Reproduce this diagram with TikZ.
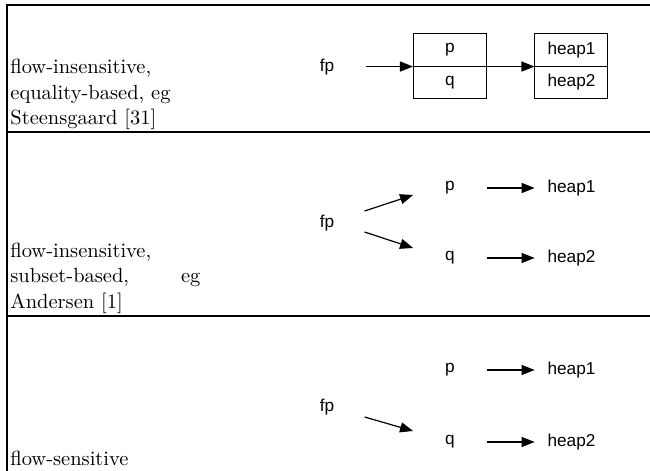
\documentclass[tikz,border=0pt]{standalone}
\usepackage{fontspec}
\newfontfamily\diagfont{Liberation Sans}
\usetikzlibrary{arrows.meta}

\tikzset{
  lbl/.style={font=\diagfont\fontsize{8.6}{10}\selectfont, inner sep=0pt},
  cell/.style={lbl, minimum width=36.5pt, minimum height=16.35pt},
  box/.style={cell, draw, line width=0.5pt},
  arr/.style={-{Triangle[length=6.5pt,width=5pt]}, line width=0.6pt},
  rowtext/.style={font=\fontsize{10.25}{12.75}\selectfont, inner sep=0pt, align=left, anchor=base west}
}

\begin{document}
\begin{tikzpicture}[x=0.5pt,y=-0.5pt]
\useasboundingbox (0,0) rectangle (650,471);

% table rules
\draw[line width=0.6pt] (7,471) -- (7,5) -- (650,5);
\draw[line width=0.6pt] (7,132) -- (650,132);
\draw[line width=0.6pt] (7,316) -- (650,316);

% row 1
\node[rowtext] (t1) at (10,125) {flow-insensitive,\\ equality-based, eg\\ Steensgaard [31]};
\node[lbl] (fp1) at (327,67) {fp};
\node[box] (p1) at (450,49.7) {p};
\node[box] (q1) at (450,82.4) {q};
\node[box] (a1) at (571.5,49.7) {heap1};
\node[box] (b1) at (571.5,82.4) {heap2};
\draw[arr, shorten <=15.5pt] (fp1.east |- p1.south west) -- (p1.south west);
\draw[arr] (p1.south east) -- (a1.south west);

% row 2
\node[rowtext] (t2) at (10,308) {flow-insensitive,\\ \makebox[95pt][s]{subset-based, eg}\\ Andersen [1]};
\node[lbl] (fp2) at (327,223) {fp};
\node[cell] (p2) at (450,188) {p};
\node[cell] (q2) at (450,258) {q};
\node[cell] (a2) at (571.5,188) {heap1};
\node[cell] (b2) at (571.5,258) {heap2};
\draw[arr] ([xshift=15pt,yshift=6pt]fp2.east) -- ([yshift=-3.5pt]p2.west);
\draw[arr] ([xshift=15pt,yshift=-4.5pt]fp2.east) -- ([yshift=5pt]q2.west);
\draw[arr] (p2) -- (a2);
\draw[arr] (q2) -- (b2);

% row 3
\node[rowtext] (t3) at (10,466) {flow-sensitive};
\node[lbl] (fp3) at (327,407) {fp};
\node[cell] (p3) at (450,370) {p};
\node[cell] (q3) at (450,442) {q};
\node[cell] (a3) at (571.5,370) {heap1};
\node[cell] (b3) at (571.5,442) {heap2};
\draw[arr] ([xshift=15pt,yshift=-5pt]fp3.east) -- ([yshift=5.5pt]q3.west);
\draw[arr] (p3) -- (a3);
\draw[arr] (q3) -- (b3);

\end{tikzpicture}
\end{document}
